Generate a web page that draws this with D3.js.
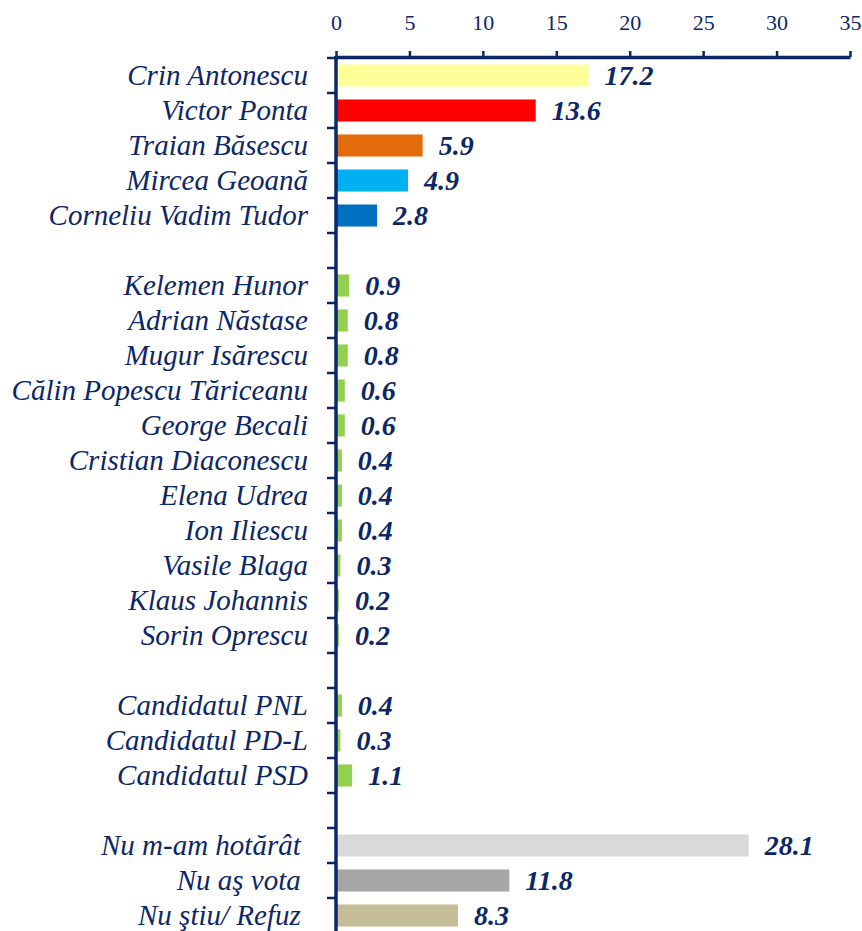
<!DOCTYPE html>
<html>
<head>
<meta charset="utf-8">
<script src="https://cdn.jsdelivr.net/npm/d3@7"></script>
<style>
  html, body { margin: 0; padding: 0; background: #ffffff; }
  svg { display: block; }
  text { white-space: pre; }
</style>
</head>
<body>
<svg id="chart" width="862" height="931"></svg>
<script>
// ---- data ----
const categories = [
  "Crin Antonescu", "Victor Ponta", "Traian Băsescu", "Mircea Geoană", "Corneliu Vadim Tudor",
  "",
  "Kelemen Hunor", "Adrian Năstase", "Mugur Isărescu", "Călin Popescu Tăriceanu", "George Becali",
  "Cristian Diaconescu", "Elena Udrea", "Ion Iliescu", "Vasile Blaga", "Klaus Johannis", "Sorin Oprescu",
  "",
  "Candidatul PNL", "Candidatul PD-L", "Candidatul PSD",
  "",
  "Nu m-am hotărât ", "Nu aş vota ", "Nu ştiu/ Refuz "
];
const values = [
  17.2, 13.6, 5.9, 4.9, 2.8,
  null,
  0.9, 0.8, 0.8, 0.6, 0.6, 0.4, 0.4, 0.4, 0.3, 0.2, 0.2,
  null,
  0.4, 0.3, 1.1,
  null,
  28.1, 11.8, 8.3
];
const tickValues = [0, 5, 10, 15, 20, 25, 30, 35];

// ---- styles ----
const barColors = [
  "#FFFF99", "#FF0000", "#E36C0A", "#00B0F0", "#0070C0",
  null,
  "#92D050", "#92D050", "#92D050", "#92D050", "#92D050", "#92D050", "#92D050", "#92D050", "#92D050", "#92D050", "#92D050",
  null,
  "#92D050", "#92D050", "#92D050",
  null,
  "#D9D9D9", "#A6A6A6", "#C4BD97"
];
const navy = "#0c2766";
const serif = "'Liberation Serif', 'DejaVu Serif', serif";

const svg = d3.select("#chart");
const x = d3.scaleLinear().domain([0, 35]).range([336, 850]);
const y = d3.scaleBand()
  .domain(d3.range(categories.length))
  .range([58, 58 + 35 * categories.length])
  .paddingInner(0.37)
  .paddingOuter(0.185);

const rows = categories.map((c, i) => ({ i, label: c, value: values[i], color: barColors[i] }));

// bars
svg.append("g").selectAll("rect")
  .data(rows.filter(d => d.value != null))
  .join("rect")
  .attr("x", x(0))
  .attr("y", d => y(d.i))
  .attr("width", d => x(d.value) - x(0))
  .attr("height", y.bandwidth())
  .attr("fill", d => d.color);

// value labels
svg.append("g").selectAll("text")
  .data(rows.filter(d => d.value != null))
  .join("text")
  .attr("x", d => x(d.value) + 16)
  .attr("y", d => y(d.i) + y.bandwidth() / 2 + 9)
  .attr("font-family", serif)
  .attr("font-size", 28)
  .attr("font-weight", "bold")
  .attr("font-style", "italic")
  .attr("fill", navy)
  .text(d => d3.format(".1f")(d.value));

// category labels
svg.append("g").selectAll("text")
  .data(rows.filter(d => d.label !== ""))
  .join("text")
  .attr("x", 308)
  .attr("y", d => y(d.i) + y.bandwidth() / 2 + 9)
  .attr("text-anchor", "end")
  .attr("font-family", serif)
  .attr("font-size", 29)
  .attr("font-style", "italic")
  .attr("fill", navy)
  .text(d => d.label);

// top axis
const xAxis = d3.axisTop(x).tickValues(tickValues).tickSize(6).tickPadding(21).tickSizeOuter(0);
const gx = svg.append("g").attr("transform", "translate(0,57)").call(xAxis);
gx.select(".domain").attr("stroke", navy).attr("stroke-width", 3.5);
gx.selectAll(".tick line").attr("stroke", navy).attr("stroke-width", 2.5);
gx.selectAll(".tick text")
  .attr("fill", navy)
  .attr("font-family", serif)
  .attr("font-size", 22);

// vertical axis with ticks between categories
const gy = svg.append("g");
const step = y.step();
const boundaries = d3.range(categories.length + 1).map(k => y.range()[0] + k * step);
gy.append("line")
  .attr("x1", x(0)).attr("x2", x(0))
  .attr("y1", 56).attr("y2", y.range()[1])
  .attr("stroke", navy).attr("stroke-width", 3.5);
gy.selectAll("line.tk")
  .data(boundaries)
  .join("line")
  .attr("class", "tk")
  .attr("x1", x(0) - 9).attr("x2", x(0))
  .attr("y1", d => d).attr("y2", d => d)
  .attr("stroke", navy).attr("stroke-width", 2.5);
</script>
</body>
</html>
